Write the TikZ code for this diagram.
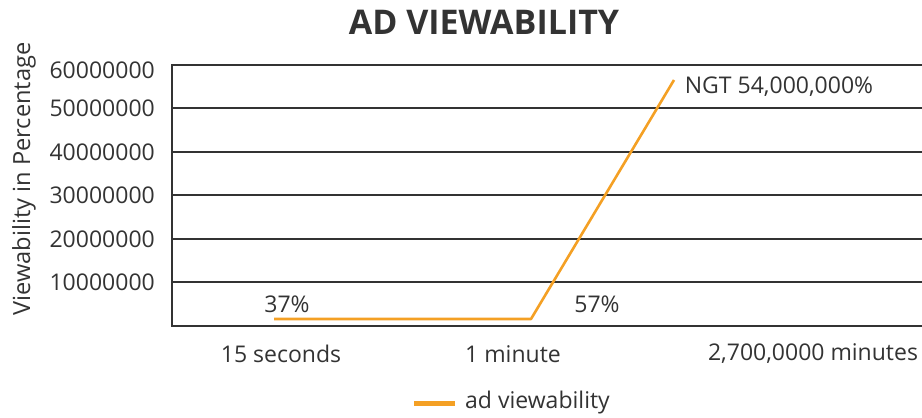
\documentclass[tikz,border=0pt]{standalone}
\usepackage{fontspec}
\setmainfont{Open Sans}
\usetikzlibrary{calc,positioning}
\definecolor{txtgray}{HTML}{333333}
\definecolor{lineorange}{HTML}{F4A024}
\tikzset{
  grid line/.style={draw=txtgray,line width=1.4pt},
  tick label/.style={text=txtgray,font=\fontsize{23}{26}\selectfont,inner sep=0pt},
  val label/.style={text=txtgray,font=\fontsize{23}{26}\selectfont,inner sep=0pt},
  series/.style={draw=lineorange,line width=2.6pt}
}
\begin{document}
\begin{tikzpicture}[x=1pt,y=-1pt]
\useasboundingbox (0,0) rectangle (922,418);
\node[text=txtgray,font=\bfseries\fontsize{34}{38}\selectfont](title) at (484,22){AD VIEWABILITY};
\node[tick label,font=\fontsize{23.6}{26}\selectfont,rotate=90](ytitle) at (24,179){Viewability in Percentage};
% grid
\draw[grid line](172,65)--(922,65);
\draw[grid line](172,108)--(922,108);
\draw[grid line](172,152)--(922,152);
\draw[grid line](172,195)--(922,195);
\draw[grid line](172,239)--(922,239);
\draw[grid line](172,282)--(922,282);
\draw[grid line](172,326)--(922,326);
\draw[grid line](172,64.3)--(172,326.7);
\node[tick label,anchor=east](y6) at (155,70){60000000};
\node[tick label,anchor=east](y5) at (155,108){50000000};
\node[tick label,anchor=east](y4) at (155,152){40000000};
\node[tick label,anchor=east](y3) at (155,195){30000000};
\node[tick label,anchor=east](y2) at (155,239){20000000};
\node[tick label,anchor=east](y1) at (155,282){10000000};
\node[tick label](x1) at (281,354){15 seconds};
\node[tick label](x2) at (513,354){1 minute};
\node[tick label](x3) at (813,354){2,700,0000 minutes};
% data
\coordinate(p1) at (274,319);
\coordinate(p2) at (531,319);
\coordinate(p3) at (674,80);
\draw[series,line join=round](p1)--(p2)--(p3);
\node[val label](v1) at (287,304){37\%};
\node[val label](v2) at (597,304){57\%};
\node[val label](v3) at (779,87){NGT 54,000,000\%};
% legend
\coordinate(l1) at (414,403);
\coordinate(l2) at (455,403);
\draw[draw=lineorange,line width=5pt](l1)--(l2);
\node[val label,anchor=west](leg) at (465,403){ad viewability};
\end{tikzpicture}
\end{document}
